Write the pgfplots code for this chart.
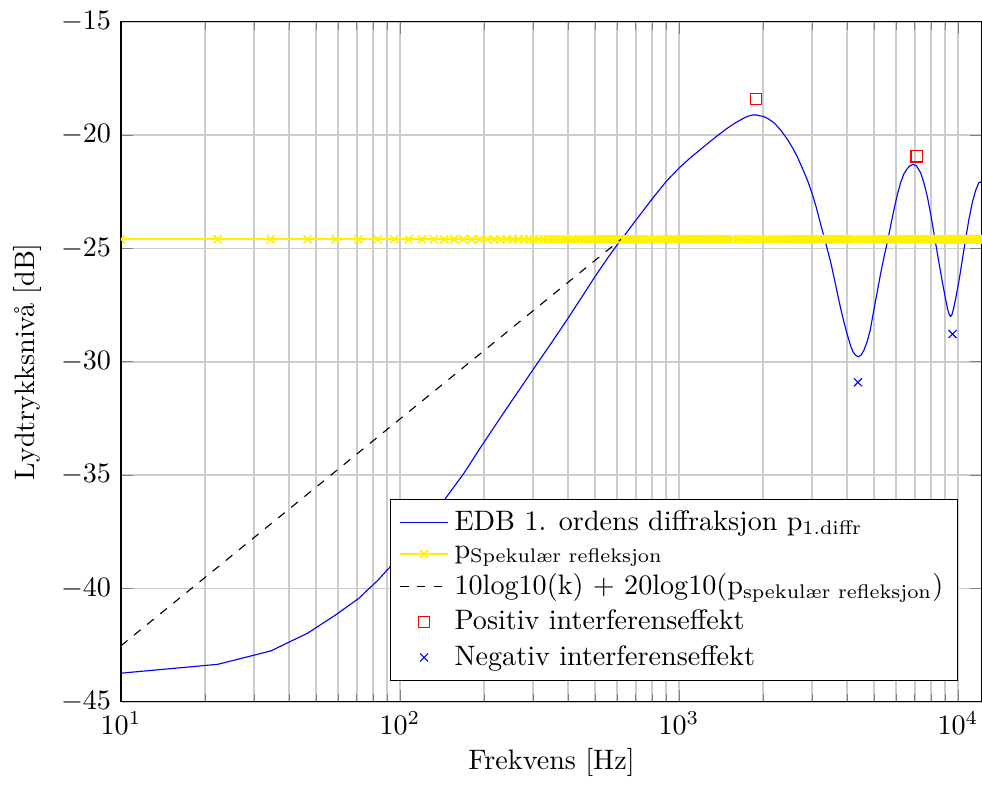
\documentclass[border=0pt]{standalone}
\usepackage{fontspec}
\usepackage{pgfplots}
\pgfplotsset{compat=1.18}
\begin{document}
\begin{tikzpicture}[trim axis right]
\begin{semilogxaxis}[
  scale only axis,
  width=306pt, height=241.7pt,
  xmin=10, xmax=12200,
  ymin=-45, ymax=-15,
  ytick={-45,-40,-35,-30,-25,-20,-15},
  grid=both,
  major grid style={black!20, line width=0.6pt},
  minor grid style={black!20, line width=0.6pt},
  clip marker paths=true,
  xlabel={Frekvens [Hz]},
  xlabel style={yshift=2pt},
  ylabel={Lydtrykksnivå [dB]},
  legend cell align=left,
  legend style={at={(0.972,0.03)},anchor=south east,draw=black},
]
% EDB 1st order diffraction
\addplot[blue, no markers] coordinates {
(10,-43.74) (22.2,-43.35) (34.4,-42.76) (46.6,-41.98) (58.8,-41.17) (71,-40.45)
(83.2,-39.65) (95.4,-38.85) (107.6,-38.05) (119.8,-37.35) (132,-36.7) (144.2,-36.1)
(170,-34.9) (196,-33.72) (240,-32.1) (298,-30.4) (350,-29.15) (400,-28.09)
(450,-27.12) (500,-26.25) (550,-25.5) (600,-24.85) (636,-24.45) (700,-23.77)
(800,-22.83) (900,-22.05) (1000,-21.46) (1100,-21.0) (1229,-20.51) (1350,-20.1)
(1491,-19.70) (1600,-19.45) (1700,-19.27) (1760,-19.18) (1832,-19.12) (1900,-19.12)
(2017,-19.19) (2100,-19.3) (2200,-19.48) (2315,-19.78) (2450,-20.2) (2550,-20.55)
(2657,-20.96) (2800,-21.6) (2900,-22.05) (3000,-22.57) (3100,-23.15) (3200,-23.8)
(3310,-24.48) (3400,-25.02) (3498,-25.6) (3600,-26.3) (3700,-27.0) (3800,-27.65)
(3904,-28.25) (4000,-28.75) (4125,-29.3) (4200,-29.55) (4300,-29.72) (4400,-29.78)
(4500,-29.7) (4600,-29.5) (4732,-29.1) (4850,-28.6) (5000,-27.7) (5150,-26.85)
(5286,-26.1) (5430,-25.4) (5585,-24.72) (5740,-24.0) (5897,-23.3) (6060,-22.65)
(6232,-22.1) (6400,-21.72) (6586,-21.48) (6750,-21.34) (6920,-21.3) (7100,-21.36)
(7350,-21.66) (7550,-22.1) (7762,-22.69) (7980,-23.45) (8200,-24.31) (8380,-25.0)
(8550,-25.63) (8800,-26.5) (9036,-27.25) (9200,-27.72) (9330,-27.95) (9418,-28.0)
(9520,-27.92) (9650,-27.65) (9820,-27.2) (10100,-26.4) (10374,-25.49) (10650,-24.6)
(10950,-23.72) (11250,-23.0) (11570,-22.45) (11890,-22.1) (12050,-22.07) (12200,-22.12)
};
\addlegendentry{EDB 1. ordens diffraksjon p\textsubscript{1.diffr}}
% specular reflection
\addplot[yellow, line width=0.6pt, mark=x, mark options={solid}] coordinates {
(10,-24.6) (22.2,-24.6) (34.4,-24.6) (46.6,-24.6) (58.8,-24.6) (71,-24.6) (83.2,-24.6) (95.4,-24.6)
(107.6,-24.6) (119.8,-24.6) (132,-24.6) (144.2,-24.6) (156.4,-24.6) (168.6,-24.6) (180.8,-24.6)
(193,-24.6) (205.2,-24.6) (217.4,-24.6) (229.6,-24.6) (241.8,-24.6) (254,-24.6) (266.2,-24.6)
(278.4,-24.6) (290.6,-24.6) (302.8,-24.6) (315,-24.6) (327.2,-24.6) (339.4,-24.6) (351.6,-24.6)
(363.8,-24.6) (376,-24.6) (388.2,-24.6) (400.4,-24.6) (412.6,-24.6) (424.8,-24.6) (437,-24.6)
(449.2,-24.6) (461.4,-24.6) (473.6,-24.6) (485.8,-24.6) (498,-24.6) (510.2,-24.6) (522.4,-24.6)
(534.6,-24.6) (546.8,-24.6) (559,-24.6) (571.2,-24.6) (583.4,-24.6) (595.6,-24.6) (607.8,-24.6)
(620,-24.6) (632.2,-24.6) (644.4,-24.6) (656.6,-24.6) (668.8,-24.6) (681,-24.6) (693.2,-24.6)
(705.4,-24.6) (717.6,-24.6) (729.8,-24.6) (742,-24.6)
(766.4,-24.6) (790.8,-24.6) (815.2,-24.6) (839.6,-24.6) (864,-24.6) (888.4,-24.6) (912.8,-24.6)
(937.2,-24.6) (961.6,-24.6) (986,-24.6) (1010.4,-24.6) (1034.8,-24.6) (1059.2,-24.6) (1083.6,-24.6)
(1108,-24.6) (1132.4,-24.6) (1156.8,-24.6) (1181.2,-24.6) (1205.6,-24.6) (1230,-24.6) (1254.4,-24.6)
(1278.8,-24.6) (1303.2,-24.6) (1327.6,-24.6) (1352,-24.6) (1376.4,-24.6) (1400.8,-24.6)
(1425.2,-24.6) (1449.6,-24.6) (1474,-24.6) (1498.4,-24.6)
(1559.4,-24.6) (1620.4,-24.6) (1681.4,-24.6) (1742.4,-24.6) (1803.4,-24.6) (1864.4,-24.6)
(1925.4,-24.6) (1986.4,-24.6) (2047.4,-24.6) (2108.4,-24.6) (2169.4,-24.6) (2230.4,-24.6)
(2291.4,-24.6) (2352.4,-24.6) (2413.4,-24.6) (2474.4,-24.6) (2535.4,-24.6) (2596.4,-24.6)
(2657.4,-24.6) (2718.4,-24.6) (2779.4,-24.6) (2840.4,-24.6) (2901.4,-24.6) (2962.4,-24.6)
(3023.4,-24.6) (3084.4,-24.6) (3145.4,-24.6) (3206.4,-24.6) (3267.4,-24.6) (3328.4,-24.6)
(3389.4,-24.6) (3450.4,-24.6) (3511.4,-24.6) (3572.4,-24.6) (3633.4,-24.6) (3694.4,-24.6)
(3755.4,-24.6) (3816.4,-24.6) (3877.4,-24.6) (3938.4,-24.6) (3999.4,-24.6)
(4121.4,-24.6) (4243.4,-24.6) (4365.4,-24.6) (4487.4,-24.6) (4609.4,-24.6) (4731.4,-24.6)
(4853.4,-24.6) (4975.4,-24.6) (5097.4,-24.6) (5219.4,-24.6) (5341.4,-24.6) (5463.4,-24.6)
(5585.4,-24.6) (5707.4,-24.6) (5829.4,-24.6) (5951.4,-24.6) (6073.4,-24.6) (6195.4,-24.6)
(6317.4,-24.6) (6439.4,-24.6) (6561.4,-24.6) (6683.4,-24.6) (6805.4,-24.6) (6927.4,-24.6)
(7049.4,-24.6) (7171.4,-24.6) (7293.4,-24.6) (7415.4,-24.6) (7537.4,-24.6) (7659.4,-24.6)
(7781.4,-24.6) (7903.4,-24.6) (8025.4,-24.6) (8147.4,-24.6) (8269.4,-24.6) (8391.4,-24.6)
(8513.4,-24.6) (8635.4,-24.6) (8757.4,-24.6) (8879.4,-24.6) (9001.4,-24.6) (9123.4,-24.6)
(9245.4,-24.6) (9367.4,-24.6) (9489.4,-24.6) (9611.4,-24.6) (9733.4,-24.6) (9855.4,-24.6)
(9977.4,-24.6) (10099.4,-24.6) (10221.4,-24.6) (10343.4,-24.6) (10465.4,-24.6) (10587.4,-24.6)
(10709.4,-24.6) (10831.4,-24.6) (10953.4,-24.6) (11075.4,-24.6) (11197.4,-24.6) (11319.4,-24.6)
(11441.4,-24.6) (11563.4,-24.6) (11685.4,-24.6) (11807.4,-24.6) (11929.4,-24.6) (12051.4,-24.6)
(12173.4,-24.6) (12197.8,-24.6)
};
\addlegendentry{p\textsubscript{Spekulær refleksjon}}
% 10log10(k)+20log10(p)
\addplot[black, dashed, no markers] coordinates {(10,-42.53) (620,-24.6)};
\addlegendentry{10log10(k) $+$ 20log10(p\textsubscript{spekulær refleksjon})}
\addplot[red, only marks, mark=square] coordinates {(1888,-18.41) (7113,-20.94)};
\addlegendentry{Positiv interferenseffekt}
\addplot[blue, only marks, mark=x] coordinates {(4381,-30.91) (9570,-28.78)};
\addlegendentry{Negativ interferenseffekt}
\end{semilogxaxis}
\path ([xshift=-43pt]current axis.south west) ([yshift=7.7pt]current axis.north west);
\end{tikzpicture}
\end{document}
